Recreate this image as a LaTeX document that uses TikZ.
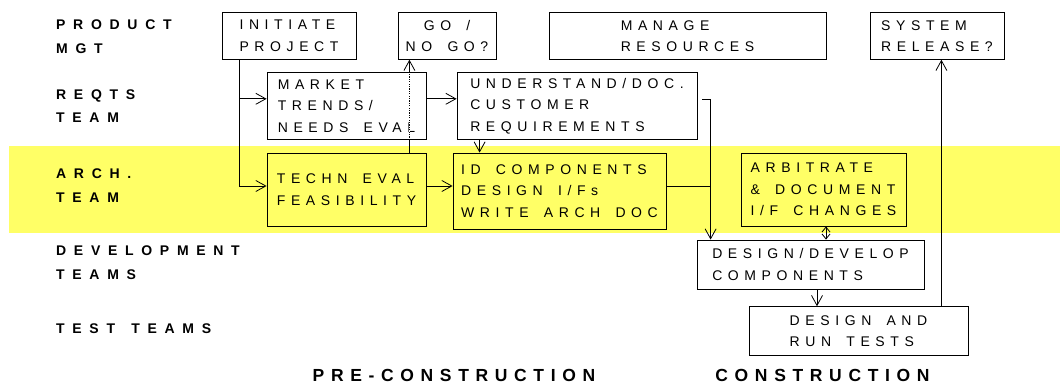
\documentclass[tikz,border=0pt]{standalone}
\usepackage{fontspec}
\setmainfont{Liberation Sans}
\newfontfamily\boxfont[LetterSpace=40, WordSpace=1.6]{Liberation Sans}
\newfontfamily\lanefont[LetterSpace=55, WordSpace=1.4]{Liberation Sans}
\newfontfamily\phasefont[LetterSpace=38]{Liberation Sans}
\usetikzlibrary{arrows.meta, positioning, calc}
\definecolor{lanecolor}{RGB}{255,255,102}

\begin{document}
\begin{tikzpicture}[x=1pt, y=-1pt, >={Straight Barb[length=10pt,width=11pt]}]
    % Define styles
    \tikzstyle{box}=[rectangle, draw=black, line width=0.8pt, fill=white, align=left, inner sep=0pt, font={\boxfont\fontsize{14}{21.5}\selectfont}]
    \tikzstyle{archbox}=[box, fill=lanecolor]
    \tikzstyle{lane}=[anchor=west, align=left, inner sep=0pt, font={\lanefont\bfseries\fontsize{14}{23.7}\selectfont}]
    \tikzstyle{phase}=[inner sep=0pt, font={\phasefont\bfseries\fontsize{17.5}{20}\selectfont}]
    \tikzstyle{conn}=[->, line width=0.8pt]

    \useasboundingbox (0,0) rectangle (1060,383);

    % Architecture band
    \fill[lanecolor] (9,146) rectangle (1060,233.3);

    % Lane labels
    \node[lane] at (56,36.8) (pm) {PRODUCT\\MGT};
    \node[lane] at (56,106.2) (rq) {REQTS\\TEAM};
    \node[lane] at (56,185.3) (ar) {ARCH.\\TEAM};
    \node[lane] at (56,262.7) (dv) {DEVELOPMENT\\TEAMS};
    \node[lane] at (56,329) (ts) {TEST TEAMS};

    % Top row
    \node[box, minimum width=134pt, minimum height=46.7pt] at (289,36) (init) {INITIATE\\PROJECT};
    \node[box, align=center, minimum width=98pt, minimum height=46.7pt] at (447,36) (gonogo) {GO /\\NO GO?};
    \node[box, minimum width=277pt, minimum height=46.7pt] at (687.5,36) (manage) {MANAGE\\RESOURCES};
    \node[box, minimum width=134pt, minimum height=46.7pt] at (937,36) (release) {SYSTEM\\RELEASE?};

    % Requirements row
    \node[box, minimum width=159pt, minimum height=67pt] at (346.5,105.8) (market) {MARKET\\TRENDS/\\NEEDS EVAL};
    \node[box, minimum width=240pt, minimum height=67pt] at (577,105.8) (understand) {UNDERSTAND/DOC.\\CUSTOMER\\REQUIREMENTS};

    % Architecture row
    \node[archbox, minimum width=159pt, minimum height=73pt] at (346.5,189.5) (techn) {TECHN EVAL\\FEASIBILITY};
    \node[archbox, minimum width=213pt, minimum height=76pt] at (559.5,191) (idcomp) {ID COMPONENTS\\DESIGN I/Fs\\WRITE ARCH DOC};
    \node[archbox, minimum width=165pt, minimum height=73pt] at (823.5,189.5) (arbit) {ARBITRATE\\\& DOCUMENT\\I/F CHANGES};

    % Development and test rows
    \node[box, minimum width=227pt, minimum height=49pt] at (810.5,264.5) (develop) {DESIGN/DEVELOP\\COMPONENTS};
    \node[box, minimum width=219pt, minimum height=48.7pt] at (858.5,331) (tests) {DESIGN AND\\RUN TESTS};

    % Phases
    \node[phase] at (454,375) (pre) {PRE-CONSTRUCTION};
    \node[phase] at (822.5,375) (con) {CONSTRUCTION};

    % Connectors
    \coordinate (trunk) at ([xshift=18pt]init.south west);
    \coordinate (mktin) at ([yshift=7pt]market.west);
    \coordinate (tecout) at ([yshift=3.5pt]techn.east);
    \coordinate (gox) at ([xshift=-17pt]techn.north east);
    \coordinate (reqdown) at ([xshift=23pt]understand.south west);
    \coordinate (devin) at ([xshift=14pt]develop.north west);
    \coordinate (idout) at ([yshift=4.3pt]idcomp.east);
    \coordinate (arbx) at ([xshift=2.5pt]arbit.south);
    \coordinate (tstdown) at ([xshift=6.5pt]develop.south);
    \coordinate (relup) at ([xshift=-27pt]tests.north east);

    \draw[conn] (trunk) |- ([yshift=3.5pt]techn.west);
    \draw[conn] (trunk |- mktin) -- (mktin);
    \draw[conn] ([yshift=7pt]market.east) -- ([yshift=7pt]understand.west);
    \draw[conn] (tecout) -- (tecout -| idcomp.west);
    \draw[conn] (gox) -- (gox |- gonogo.south);
    \draw[white, line width=0.8pt, dash pattern=on 1.2pt off 1.2pt] ([yshift=1pt]gox |- market.south) -- ([yshift=-1pt]gox |- market.north);
    \draw[conn] (reqdown) -- (reqdown |- idcomp.north);
    \draw[conn] ([shift={(5pt,6pt)}]understand.east) -| (devin);
    \draw[line width=0.8pt] (idout) -- (idout -| devin);
    \draw[<->, line width=0.8pt, >={Straight Barb[length=5pt,width=8pt]}] (arbx) -- (arbx |- develop.north);
    \draw[conn] (tstdown) -- (tstdown |- tests.north);
    \draw[conn] (relup) -- (relup |- release.south);

\end{tikzpicture}
\end{document}
